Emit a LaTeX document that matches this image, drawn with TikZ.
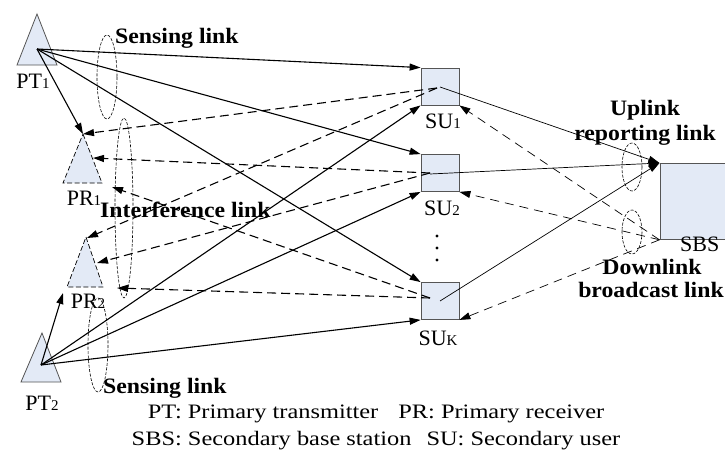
\documentclass[tikz,border=0pt]{standalone}
\usepackage{fontspec}
\setmainfont{Liberation Serif}
\newfontfamily\lblfont[FakeStretch=1.08]{Liberation Serif}
\newfontfamily\legfont[FakeStretch=1.19]{Liberation Serif}
\usetikzlibrary{arrows.meta}
\definecolor{nodefill}{HTML}{E3EAF6}
\definecolor{nodeedge}{HTML}{555555}
\newcommand\smlsub[1]{{\fontsize{15}{15}\selectfont #1}}
\tikzset{
 tipA/.style={-{Triangle[length=11pt,width=7pt]}},
 solidarr/.style={line width=1.1pt, tipA},
 dasharr/.style={line width=1.1pt, dash pattern=on 9pt off 5pt, tipA},
 thinarr/.style={line width=0.7pt, tipA},
 thindash/.style={line width=0.7pt, dash pattern=on 9pt off 6pt, tipA},
 ring/.style={draw, line width=0.6pt, dash pattern=on 3pt off 1.5pt},
 subox/.style={draw=nodeedge, fill=nodefill, line width=0.8pt, minimum width=38pt, minimum height=37pt, inner sep=0pt},
 txshape/.style={fill=nodefill, draw=nodeedge, line width=0.8pt},
 rxshape/.style={fill=nodefill, draw=black, line width=0.7pt, dash pattern=on 5pt off 2.5pt},
 lbl/.style={font=\lblfont\bfseries\fontsize{22}{22}\selectfont, inner sep=0pt, anchor=base},
 nlbl/.style={font=\fontsize{22}{22}\selectfont, inner sep=0pt, anchor=base},
 leg/.style={font=\legfont\fontsize{20.5}{20.5}\selectfont, inner sep=0pt, anchor=base},
}
\begin{document}
\begin{tikzpicture}[x=1pt,y=-1pt]
\useasboundingbox (0,0) rectangle (725,455);

% ---- primary transmitters / receivers
\draw[txshape] (37,14) -- (57,65) -- (17,65) -- cycle;
\draw[rxshape] (83,134) -- (102,183) -- (63,183) -- cycle;
\draw[rxshape] (86,237) -- (103,287) -- (67,287) -- cycle;
\draw[txshape] (42,333) -- (61,382) -- (21,382) -- cycle;

\coordinate (pt1) at (37,49);
\coordinate (pt2) at (41,365);
\coordinate (pr1top) at (83,134);
\coordinate (pr1side) at (93,158);
\coordinate (pr1base) at (112,187);
\coordinate (pr2top) at (87,238);
\coordinate (pr2side) at (97,263);
\coordinate (pr2base) at (117,288);
\coordinate (pr2foot) at (63,293);

\node[nlbl] (lpt1) at (33,88) {PT\smlsub{1}};
\node[nlbl] (lpr1) at (84,205) {PR\smlsub{1}};
\node[nlbl] (lpr2) at (88,308) {PR\smlsub{2}};
\node[nlbl] (lpt2) at (42,410) {PT\smlsub{2}};

% ---- secondary users
\node[subox] (su1) at (440,86.5) {};
\node[subox] (su2) at (440,173) {};
\node[subox] (suk) at (440,301) {};
\node[nlbl] (lsu1) at (443,128) {SU\smlsub{1}};
\node[nlbl] (lsu2) at (442,215) {SU\smlsub{2}};
\node[nlbl] (lsuk) at (438,345) {SU\smlsub{K}};
\fill (437,236) circle (1.6pt) (437,248) circle (1.6pt) (437,260) circle (1.6pt);

\coordinate (su1c) at (440,87);
\coordinate (su2c) at (430,174);
\coordinate (sukc) at (440,301);
\coordinate (su1d) at (437,88);
\coordinate (su2d) at (430,173);
\coordinate (sukd) at (430,298);

% ---- secondary base station
\node[draw=nodeedge, fill=nodefill, line width=0.8pt, anchor=north west, minimum width=90pt, minimum height=76pt, inner sep=0pt] (sbs) at (659.5,163) {};
\node[nlbl, anchor=base west, font=\fontsize{22}{22}\selectfont] (lsbs) at (680,251) {SBS};

% ---- sensing links from PT1
\draw[solidarr] (pt1) -- (su1.north west);
\draw[solidarr] (pt1) -- (su2.north west);
\draw[solidarr] (pt1) -- (suk.north west);
\draw[solidarr] (pt1) -- (pr1top);

% ---- sensing links from PT2
\draw[solidarr] (pt2) -- (pr2foot);
\draw[solidarr] (pt2) -- (su1.south west);
\draw[solidarr] (pt2) -- (su2.south west);
\draw[solidarr] (pt2) -- (suk.south west);

% ---- interference links
\draw[dasharr] (su1d) -- (pr1top);
\draw[dasharr] (su1d) -- (pr2top);
\draw[dasharr] (su2d) -- (pr1side);
\draw[dasharr] (su2d) -- (pr2side);
\draw[dasharr] (sukd) -- (pr1base);
\draw[dasharr] (sukd) -- (pr2base);

% ---- uplink reporting
\draw[thinarr] (su1c) -- (sbs.north west);
\draw[thinarr] (su2c) -- (sbs.north west);
\draw[thinarr] (sukc) -- (sbs.north west);

% ---- downlink broadcast
\draw[thindash] (sbs.south west) -- (su1.south east);
\draw[thindash] (sbs.south west) -- (su2.south east);
\draw[thindash] (sbs.south west) -- (suk.south east);

% ---- ellipses
\draw[ring] (107,77) ellipse [x radius=10, y radius=42];
\draw[ring] (124,208) ellipse [x radius=9, y radius=90];
\draw[ring] (98,345) ellipse [x radius=10, y radius=47];
\draw[ring] (632,167) ellipse [x radius=10, y radius=24];
\draw[ring] (632,232) ellipse [x radius=10, y radius=22];

% ---- labels
\node[lbl, anchor=base west] (ls1) at (115,43) {Sensing link};
\node[lbl, anchor=base west] (lint) at (100,217) {Interference link};
\node[lbl, anchor=base west] (ls2) at (103,393) {Sensing link};
\node[lbl] (lup1) at (645,115) {Uplink};
\node[lbl] (lup2) at (645,140) {reporting link};
\node[lbl] (ldn1) at (652,274) {Downlink};
\node[lbl] (ldn2) at (651,297) {broadcast link};

% ---- legend
\node[leg] (leg1) at (376,418) {PT: Primary transmitter\hspace{20pt}PR: Primary receiver};
\node[leg] (leg2) at (376,445) {SBS: Secondary base station\hspace{15pt}SU: Secondary user};
\end{tikzpicture}
\end{document}
